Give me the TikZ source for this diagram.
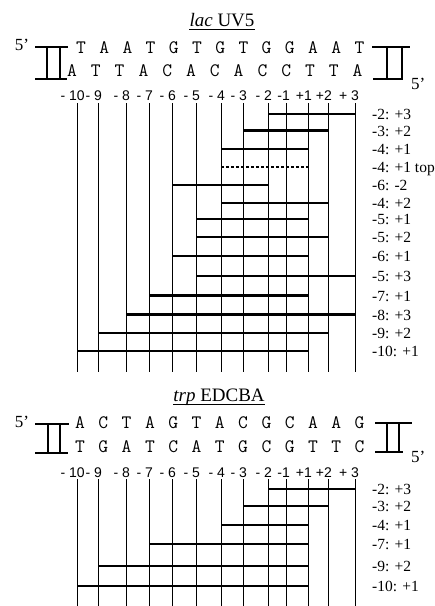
\documentclass[tikz,border=0pt]{standalone}
\usepackage{fontspec}
\setmainfont{Liberation Serif}
\setsansfont{Liberation Sans}
\begin{document}
\begin{tikzpicture}[x=1pt,y=-1pt,
  vline/.style={line width=0.8pt},
  barline/.style={line width=2.8pt},
  dotbar/.style={line width=2.4pt, dash pattern=on 3pt off 2pt},
  brk/.style={line width=1.2pt},
  nuc/.style={font=\ttfamily\fontsize{19}{19}\selectfont, inner sep=0pt, anchor=base},
  num/.style={font=\sffamily\fontsize{14}{14}\selectfont, inner sep=0pt, anchor=base},
  lab/.style={font=\fontsize{15.5}{15.5}\selectfont, inner sep=0pt, anchor=base west},
  five/.style={font=\fontsize{17}{17}\selectfont, inner sep=0pt},
  ttl/.style={font=\fontsize{19}{19}\selectfont, inner sep=0pt, anchor=base},
  uline/.style={line width=1pt}]
\useasboundingbox (0,0) rectangle (435,606);

% ===================== lac UV5 =====================
\node[ttl] (lacT) at (222,26) {\textit{lac} UV5};
\draw[uline] ([yshift=-3.5pt]lacT.base west) -- ([yshift=-3.5pt]lacT.base east);

\node[five] (lac5L) at (22,45) {5’};
\node[five, anchor=west] (lac5R) at (411,84) {5’};

% brackets
\draw[brk] (35,47) -- (68,47) (35,79) -- (67,79) (47,47) -- (47,79) (60,47) -- (60,79);
\draw[brk] (372,47) -- (410,47) (373,79) -- (403,79) (387,47) -- (387,79) (402,47) -- (402,79);

\foreach \c [count=\i from 0] in {T,A,A,T,G,T,G,T,G,G,A,A,T}
  \node[nuc] (lacA\i) at ({81+23.2*\i},53) {\c};
\foreach \c [count=\i from 0] in {A,T,T,A,C,A,C,A,C,C,T,T,A}
  \node[nuc] (lacB\i) at ({72+23.8*\i},76) {\c};

\foreach \x/\t [count=\i] in {77/{\llap{- }10},98/{\llap{- }9},126/{\llap{- }8},149/{\llap{- }7},
   172/{\llap{- }6},196/{\llap{- }5},221/{\llap{- }4},243/{\llap{- }3},268/{\llap{- }2},
   286/{\llap{-}1},308/{\llap{+}1},328/{\llap{+}2},355/{\llap{+ }3}}{
  \node[num] (lacN\i) at (\x,100) {\t};
  \coordinate (lacV\i) at (\x,103);
  \coordinate (lacW\i) at (\x,372);
  \draw[vline] (lacV\i) -- (lacW\i);
}

\foreach \a/\b/\y/\t [count=\i] in {268/355/114/{-2: +3},243/328/130.5/{-3: +2},
   221/308/149/{-4: +1},172/268/185/{-6: -2},221/328/203/{-4: +2},196/308/219/{-5: +1},
   196/328/237/{-5: +2},172/308/256/{-6: +1},196/355/276/{-5: +3},149/308/295.5/{-7: +1},
   126/355/314.5/{-8: +3},98/328/333/{-9: +2},77/308/351/{-10: +1}}{
  \coordinate (lacP\i) at (\a,\y);
  \coordinate (lacQ\i) at (\b,\y);
  \draw[barline] (lacP\i) -- (lacQ\i);
  \node[lab] (lacL\i) at ({372},{\y+5.5}) {\t};
}
\coordinate (lacDP) at (221,167);
\coordinate (lacDQ) at (309,167);
\draw[dotbar] (lacDP) -- (lacDQ);
\node[lab] (lacDL) at (372,172.5) {-4: +1 top};

% ===================== trp EDCBA =====================
\node[ttl] (trpT) at (219,401) {\textit{trp} EDCBA};
\draw[uline] ([yshift=-3.5pt]trpT.base west) -- ([yshift=-3.5pt]trpT.base east);

\node[five] (trp5L) at (22,422) {5’};
\node[five, anchor=west] (trp5R) at (411,457) {5’};

\draw[brk] (35,424) -- (69,424) (35,453) -- (68,453) (48,424) -- (48,453) (60,424) -- (60,453);
\draw[brk] (375,423) -- (412,423) (375,452) -- (403,452) (387,423) -- (387,452) (399,423) -- (399,452);

\foreach \c [count=\i from 0] in {A,C,T,A,G,T,A,C,G,C,A,A,G}
  \node[nuc] (trpA\i) at ({80+23.3*\i},428.5) {\c};
\foreach \c [count=\i from 0] in {T,G,A,T,C,A,T,G,C,G,T,T,C}
  \node[nuc] (trpB\i) at ({80+23.3*\i},452.5) {\c};

\foreach \x/\t [count=\i] in {77/{\llap{- }10},98/{\llap{- }9},126/{\llap{- }8},149/{\llap{- }7},
   172/{\llap{- }6},196/{\llap{- }5},221/{\llap{- }4},243/{\llap{- }3},268/{\llap{- }2},
   286/{\llap{-}1},308/{\llap{+}1},328/{\llap{+}2},355/{\llap{+ }3}}{
  \node[num] (trpN\i) at (\x,477) {\t};
  \coordinate (trpV\i) at (\x,479);
  \coordinate (trpW\i) at (\x,606);
  \draw[vline] (trpV\i) -- (trpW\i);
}

\foreach \a/\b/\y/\t [count=\i] in {268/355/489/{-2: +3},243/328/506/{-3: +2},
   221/308/525/{-4: +1},149/308/544/{-7: +1},98/308/566/{-9: +2},77/308/586/{-10: +1}}{
  \coordinate (trpP\i) at (\a,\y);
  \coordinate (trpQ\i) at (\b,\y);
  \draw[barline] (trpP\i) -- (trpQ\i);
  \node[lab] (trpL\i) at ({372},{\y+5.5}) {\t};
}
\end{tikzpicture}
\end{document}
